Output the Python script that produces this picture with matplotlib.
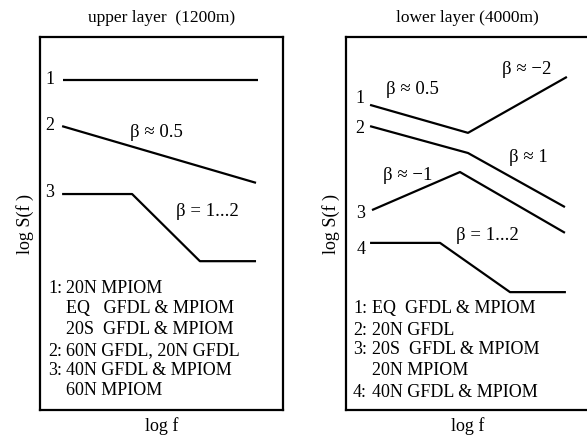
import matplotlib
matplotlib.use("Agg")
import matplotlib.pyplot as plt

plt.rcParams["font.family"] = ["Liberation Serif", "DejaVu Serif"]

W, H = 587, 438

# schematic spectra, axis units 0..10 (log f, log S)
upper_x = [[0.95, 8.97], [0.91, 8.89], [0.91, 3.79, 6.58, 8.89]]
upper_y = [[8.85, 8.85], [7.61, 6.09], [5.79, 5.79, 3.99, 3.99]]
upper_ids = ["1", "2", "3"]
upper_id_pos = [(0.41, 8.85), (0.41, 7.62), (0.41, 5.82)]
upper_betas = ["β ≈ 0.5", "β = 1...2"]
upper_beta_pos = [(4.81, 7.45), (6.87, 5.31)]
upper_legend = [("1:", "20N MPIOM"), ("", "EQ   GFDL & MPIOM"), ("", "20S  GFDL & MPIOM"),
                ("2:", "60N GFDL, 20N GFDL"), ("3:", "40N GFDL & MPIOM"), ("", "60N MPIOM")]
upper_legend_y = [3.27, 2.71, 2.17, 1.58, 1.05, 0.51]

lower_x = [[0.99, 5.02, 9.09], [0.99, 5.02, 9.01], [1.07, 4.69, 9.01], [0.99, 3.87, 6.75, 9.05]]
lower_y = [[8.18, 7.43, 8.93], [7.61, 6.89, 5.44], [5.36, 6.38, 4.75], [4.48, 4.48, 3.16, 3.16]]
lower_ids = ["1", "2", "3", "4"]
lower_id_pos = [(0.58, 8.36), (0.58, 7.56), (0.62, 5.28), (0.62, 4.29)]
lower_betas = ["β ≈ 0.5", "β ≈ −2", "β ≈ 1", "β ≈ −1", "β = 1...2"]
lower_beta_pos = [(2.72, 8.58), (7.45, 9.12), (7.49, 6.76), (2.55, 6.30), (5.80, 4.69)]
lower_legend = [("1:", "EQ  GFDL & MPIOM"), ("2:", "20N GFDL"), ("3:", "20S  GFDL & MPIOM"),
                ("", "20N MPIOM"), ("4:", "40N GFDL & MPIOM")]
lower_legend_y = [2.73, 2.14, 1.61, 1.07, 0.48]

fig = plt.figure(figsize=(W / 100, H / 100), dpi=100)


def panel(left, title, xs, ys, ids, id_pos, betas, beta_pos, legend, legend_y, prefix_x):
    ax = fig.add_axes([left / W, (H - 410) / H, 243 / W, 373 / H])
    ax.set_xlim(0, 10)
    ax.set_ylim(0, 10)
    ax.set_xticks([])
    ax.set_yticks([])
    for s in ax.spines.values():
        s.set_linewidth(1.6)
    for x, y in zip(xs, ys):
        ax.plot(x, y, color="black", lw=1.6, solid_capstyle="butt")
    for t, (x, y) in zip(ids, id_pos):
        ax.text(x, y, t, fontsize=13, ha="center", va="center")
    for t, (x, y) in zip(betas, beta_pos):
        ax.text(x, y, t, fontsize=13.5, ha="center", va="center")
    for (p, body), y in zip(legend, legend_y):
        if p:
            ax.text(prefix_x, y, p, fontsize=13, ha="left", va="center")
        ax.text(1.07, y, body, fontsize=13, ha="left", va="center")
    ax.set_title(title, fontsize=12.5, pad=11)
    ax.set_xlabel("log f", fontsize=13, labelpad=5)
    ax.set_ylabel("log S(f )", fontsize=13, labelpad=4)
    return ax


panel(40, "upper layer  (1200m)", upper_x, upper_y, upper_ids, upper_id_pos,
      upper_betas, upper_beta_pos, upper_legend, upper_legend_y, 0.33)
panel(346, "lower layer (4000m)", lower_x, lower_y, lower_ids, lower_id_pos,
      lower_betas, lower_beta_pos, lower_legend, lower_legend_y, 0.29)

fig.savefig("out.png", dpi=100)
